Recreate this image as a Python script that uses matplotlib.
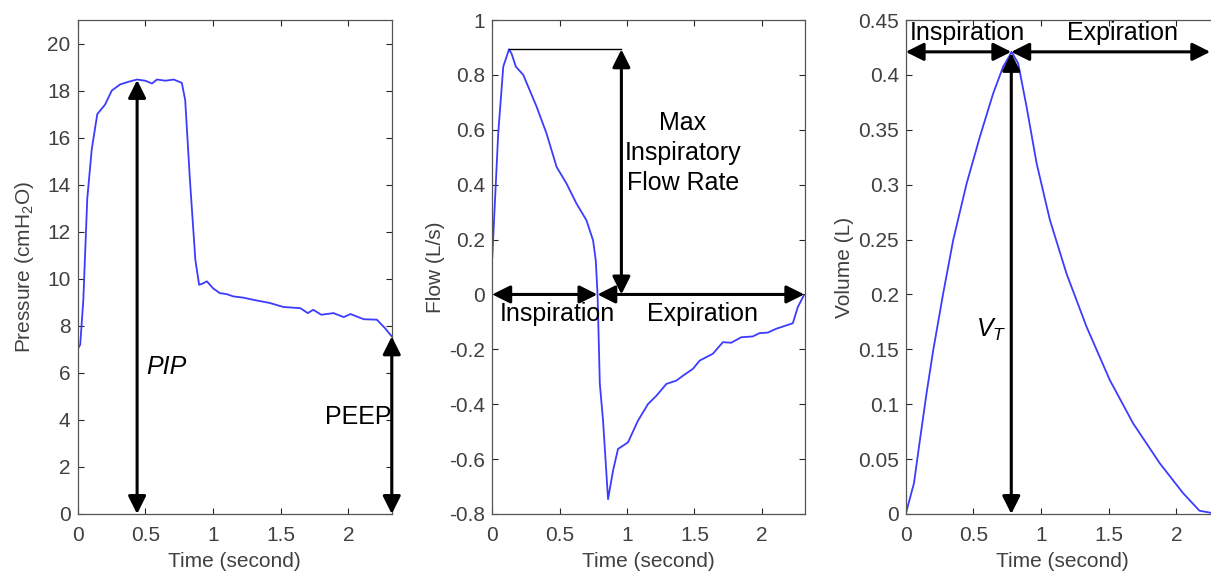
import matplotlib
matplotlib.use('Agg')
import matplotlib.pyplot as plt

plt.rcParams['font.family'] = ['Liberation Sans', 'DejaVu Sans']
plt.rcParams['mathtext.fontset'] = 'custom'
plt.rcParams['mathtext.rm'] = 'Liberation Sans'
plt.rcParams['mathtext.it'] = 'Liberation Sans:italic'

# pressure trace (cmH2O)
p_time = [0.0, 0.02, 0.043, 0.072, 0.105, 0.146, 0.203, 0.253, 0.314, 0.38, 0.44, 0.5, 0.55,
          0.586, 0.65, 0.71, 0.77, 0.795, 0.83, 0.87, 0.898, 0.925, 0.955, 1.0, 1.05, 1.1,
          1.15, 1.22, 1.32, 1.42, 1.52, 1.645, 1.70, 1.74, 1.80, 1.89, 1.965, 2.015, 2.113,
          2.21, 2.27, 2.32]
pressure = [7.0, 7.2, 9.1, 13.4, 15.5, 17.0, 17.4, 18.0, 18.26, 18.38, 18.47, 18.42, 18.3,
            18.47, 18.42, 18.47, 18.33, 17.6, 14.2, 10.8, 9.74, 9.8, 9.89, 9.6, 9.39, 9.35,
            9.25, 9.2, 9.08, 8.97, 8.8, 8.75, 8.54, 8.68, 8.47, 8.54, 8.37, 8.5, 8.28,
            8.26, 7.9, 7.55]

# flow trace (L/s)
f_time = [0.0, 0.044, 0.0815, 0.124, 0.143, 0.175, 0.23, 0.329, 0.403, 0.477, 0.551, 0.625,
          0.699, 0.748, 0.768, 0.781, 0.785, 0.798, 0.822, 0.859, 0.896, 0.933, 1.007, 1.081,
          1.156, 1.218, 1.292, 1.366, 1.415, 1.489, 1.539, 1.637, 1.711, 1.773, 1.847, 1.933,
          1.983, 2.044, 2.107, 2.23, 2.267, 2.311]
flow = [0.136, 0.586, 0.83, 0.893, 0.878, 0.83, 0.80, 0.684, 0.586, 0.465, 0.404, 0.331, 0.27,
        0.197, 0.124, 0.0, -0.07, -0.326, -0.46, -0.746, -0.642, -0.563, -0.539, -0.46, -0.399,
        -0.369, -0.326, -0.314, -0.296, -0.271, -0.241, -0.216, -0.174, -0.176, -0.156, -0.153,
        -0.141, -0.139, -0.125, -0.105, -0.046, -0.004]

# volume trace (L)
v_time = [0.0, 0.061, 0.105, 0.154, 0.203, 0.277, 0.351, 0.45, 0.548, 0.646, 0.72, 0.77,
          0.782, 0.831, 0.893, 0.967, 1.065, 1.188, 1.336, 1.508, 1.68, 1.877, 2.05, 2.17,
          2.25, 2.32]
volume = [0.0, 0.028, 0.0674, 0.110, 0.149, 0.201, 0.2496, 0.301, 0.3437, 0.383, 0.4075,
          0.418, 0.421, 0.4105, 0.371, 0.3195, 0.268, 0.219, 0.1706, 0.122, 0.0826, 0.0462,
          0.0189, 0.003, 0.0012, 0.0]

blue = '#3c3cff'
gray = '#262626'


def style(ax, ylim, yticks):
    ax.set_xlim(0, 2.32)
    ax.set_ylim(*ylim)
    ax.set_xticks([0, 0.5, 1, 1.5, 2])
    ax.set_xticklabels(['0', '0.5', '1', '1.5', '2'])
    ax.set_yticks(yticks)
    ax.tick_params(direction='in', top=True, right=True, length=4, width=0.8,
                   labelsize=15, colors=gray, labelcolor='#404040')
    ax.tick_params(axis='x', pad=9)
    ax.tick_params(axis='y', pad=5)
    for s in ax.spines.values():
        s.set_color('#555555')
        s.set_linewidth(0.9)
    ax.set_xlabel('Time (second)', fontsize=15, color='#404040', labelpad=5)


def arrow(ax, a, b):
    ax.annotate('', xy=b, xytext=a,
                arrowprops=dict(arrowstyle='<|-|>', color='k', lw=2.2,
                                mutation_scale=27, shrinkA=0, shrinkB=0))


fig = plt.figure(figsize=(12.11, 5.75), dpi=100)
ax1 = fig.add_axes([0.0640, 0.1061, 0.2595, 0.8591])
ax2 = fig.add_axes([0.4065, 0.1061, 0.2582, 0.8591])
ax3 = fig.add_axes([0.7479, 0.1061, 0.2593, 0.8591])

# pressure
ax1.plot(p_time, pressure, color=blue, lw=1.3)
style(ax1, (0, 21), list(range(0, 21, 2)))
ax1.set_ylabel('Pressure (cmH$_2$O)', fontsize=15, color='#404040', labelpad=8)
arrow(ax1, (0.44, 0), (0.44, 18.45))
arrow(ax1, (2.32, 0), (2.32, 7.55))
ax1.text(0.51, 6.27, 'PIP', fontsize=18, style='italic', va='center', ha='left')
ax1.text(1.83, 4.14, 'PEEP', fontsize=18, va='center', ha='left')

# flow
ax2.plot(f_time, flow, color=blue, lw=1.3)
style(ax2, (-0.8, 1), [-0.8, -0.6, -0.4, -0.2, 0, 0.2, 0.4, 0.6, 0.8, 1])
ax2.set_yticklabels(['-0.8', '-0.6', '-0.4', '-0.2', '0', '0.2', '0.4', '0.6', '0.8', '1'])
ax2.set_ylabel('Flow (L/s)', fontsize=15, color='#404040', labelpad=3)
ax2.plot([0.124, 0.958], [0.893, 0.893], color='k', lw=1.0)
arrow(ax2, (0.958, 0), (0.958, 0.893))
arrow(ax2, (0, 0), (0.78, 0))
arrow(ax2, (0.78, 0), (2.315, 0))
ax2.text(1.415, 0.515, 'Max\nInspiratory\nFlow Rate', fontsize=18, ha='center', va='center',
         linespacing=1.3)
ax2.text(0.486, -0.07, 'Inspiration', fontsize=18, ha='center', va='center')
ax2.text(1.563, -0.07, 'Expiration', fontsize=18, ha='center', va='center')

# volume
ax3.plot(v_time, volume, color=blue, lw=1.3)
style(ax3, (0, 0.45), [0, 0.05, 0.1, 0.15, 0.2, 0.25, 0.3, 0.35, 0.4, 0.45])
ax3.set_yticklabels(['0', '0.05', '0.1', '0.15', '0.2', '0.25', '0.3', '0.35', '0.4', '0.45'])
ax3.set_ylabel('Volume (L)', fontsize=15, color='#404040', labelpad=3)
arrow(ax3, (0.78, 0), (0.78, 0.42))
arrow(ax3, (0, 0.421), (0.78, 0.421))
arrow(ax3, (0.78, 0.421), (2.25, 0.421))
ax3.text(0.456, 0.438, 'Inspiration', fontsize=18, ha='center', va='center')
ax3.text(1.6, 0.438, 'Expiration', fontsize=18, ha='center', va='center')
ax3.text(0.745, 0.1676, '$V_T$', fontsize=18, ha='right', va='center')

fig.savefig('out.png', dpi=100)
